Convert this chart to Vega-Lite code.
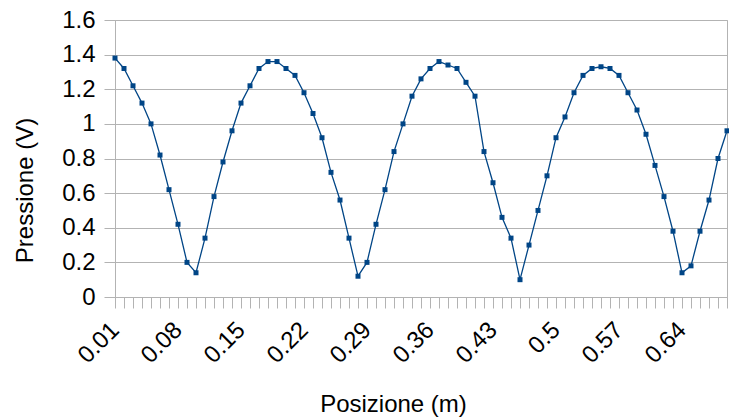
{
  "$schema": "https://vega.github.io/schema/vega-lite/v6.json",
  "width": 612,
  "height": 277,
  "autosize": "none",
  "padding": {"left": 115, "top": 20, "right": 2, "bottom": 122},
  "background": "white",
  "config": {
    "view": {"stroke": "#b3b3b3", "strokeWidth": 1},
    "font": "Liberation Sans"
  },
  "data": {
    "values": [
      {"x": 0.01, "y": 1.38}, {"x": 0.02, "y": 1.32}, {"x": 0.03, "y": 1.22}, {"x": 0.04, "y": 1.12},
      {"x": 0.05, "y": 1.0}, {"x": 0.06, "y": 0.82}, {"x": 0.07, "y": 0.62}, {"x": 0.08, "y": 0.42},
      {"x": 0.09, "y": 0.2}, {"x": 0.1, "y": 0.14}, {"x": 0.11, "y": 0.34}, {"x": 0.12, "y": 0.58},
      {"x": 0.13, "y": 0.78}, {"x": 0.14, "y": 0.96}, {"x": 0.15, "y": 1.12}, {"x": 0.16, "y": 1.22},
      {"x": 0.17, "y": 1.32}, {"x": 0.18, "y": 1.36}, {"x": 0.19, "y": 1.36}, {"x": 0.2, "y": 1.32},
      {"x": 0.21, "y": 1.28}, {"x": 0.22, "y": 1.18}, {"x": 0.23, "y": 1.06}, {"x": 0.24, "y": 0.92},
      {"x": 0.25, "y": 0.72}, {"x": 0.26, "y": 0.56}, {"x": 0.27, "y": 0.34}, {"x": 0.28, "y": 0.12},
      {"x": 0.29, "y": 0.2}, {"x": 0.3, "y": 0.42}, {"x": 0.31, "y": 0.62}, {"x": 0.32, "y": 0.84},
      {"x": 0.33, "y": 1.0}, {"x": 0.34, "y": 1.16}, {"x": 0.35, "y": 1.26}, {"x": 0.36, "y": 1.32},
      {"x": 0.37, "y": 1.36}, {"x": 0.38, "y": 1.34}, {"x": 0.39, "y": 1.32}, {"x": 0.4, "y": 1.24},
      {"x": 0.41, "y": 1.16}, {"x": 0.42, "y": 0.84}, {"x": 0.43, "y": 0.66}, {"x": 0.44, "y": 0.46},
      {"x": 0.45, "y": 0.34}, {"x": 0.46, "y": 0.1}, {"x": 0.47, "y": 0.3}, {"x": 0.48, "y": 0.5},
      {"x": 0.49, "y": 0.7}, {"x": 0.5, "y": 0.92}, {"x": 0.51, "y": 1.04}, {"x": 0.52, "y": 1.18},
      {"x": 0.53, "y": 1.28}, {"x": 0.54, "y": 1.32}, {"x": 0.55, "y": 1.33}, {"x": 0.56, "y": 1.32},
      {"x": 0.57, "y": 1.28}, {"x": 0.58, "y": 1.18}, {"x": 0.59, "y": 1.08}, {"x": 0.6, "y": 0.94},
      {"x": 0.61, "y": 0.76}, {"x": 0.62, "y": 0.58}, {"x": 0.63, "y": 0.38}, {"x": 0.64, "y": 0.14},
      {"x": 0.65, "y": 0.18}, {"x": 0.66, "y": 0.38}, {"x": 0.67, "y": 0.56}, {"x": 0.68, "y": 0.8},
      {"x": 0.69, "y": 0.96}
    ]
  },
  "mark": {
    "type": "line",
    "color": "#004586",
    "strokeWidth": 1.3,
    "point": {"shape": "square", "size": 25, "filled": true, "color": "#004586"}
  },
  "encoding": {
    "x": {
      "field": "x",
      "type": "ordinal",
      "scale": {"type": "point", "padding": 0},
      "axis": {
        "title": "Posizione (m)",
        "titleFontSize": 24,
        "titleFontWeight": "normal",
        "titleColor": "#000000",
        "titleX": 278,
        "titleY": 114,
        "titleBaseline": "alphabetic",
        "titleAlign": "center",
        "labelAngle": -45,
        "labelAlign": "right",
        "labelBaseline": "middle",
        "labelFontSize": 24,
        "labelColor": "#000000",
        "labelPadding": 18,
        "labelOverlap": false,
        "labelExpr": "indexof(['0.01','0.08','0.15','0.22','0.29','0.36','0.43','0.5','0.57','0.64'], datum.label) >= 0 ? datum.label : ''",
        "tickSize": 11,
        "tickColor": "#b3b3b3",
        "domainColor": "#b3b3b3",
        "grid": false
      }
    },
    "y": {
      "field": "y",
      "type": "quantitative",
      "scale": {"domain": [0, 1.6], "nice": false},
      "axis": {
        "title": "Pressione (V)",
        "titleFontSize": 24,
        "titleFontWeight": "normal",
        "titleColor": "#000000",
        "titleAngle": -90,
        "titleX": -83,
        "titleY": 170,
        "titleBaseline": "alphabetic",
        "titleAlign": "center",
        "values": [0, 0.2, 0.4, 0.6, 0.8, 1, 1.2, 1.4, 1.6],
        "format": ".1~f",
        "labelFontSize": 24,
        "labelColor": "#000000",
        "labelPadding": 9,
        "tickSize": 11,
        "tickColor": "#b3b3b3",
        "domainColor": "#b3b3b3",
        "grid": true,
        "gridColor": "#b3b3b3"
      }
    }
  }
}
